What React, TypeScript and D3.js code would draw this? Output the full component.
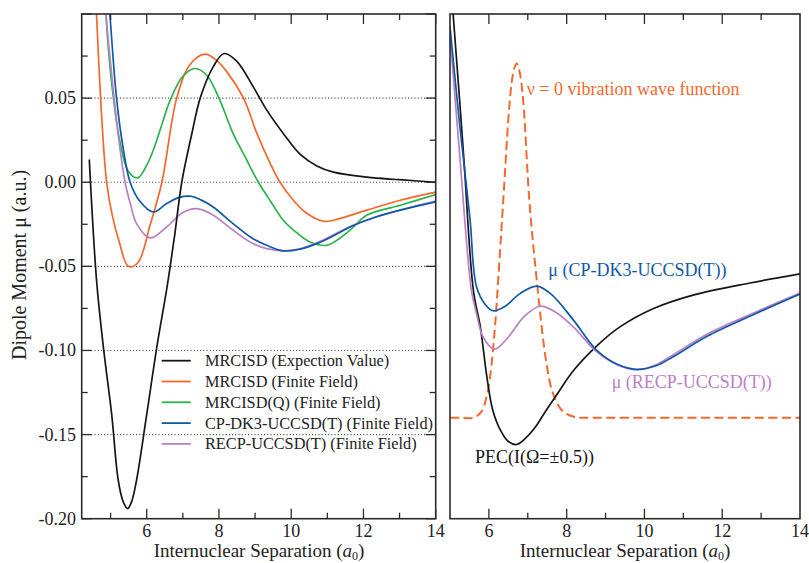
import React from "react";
import * as d3 from "d3";

// ---------- data (left panel: dipole moment, a.u.) ----------
const mrcisdExpX = [4.41, 4.61, 4.8, 5.03, 5.21, 5.35, 5.47, 5.58, 5.72, 6.0, 6.28, 6.55, 6.65, 6.78, 6.97, 7.25, 7.48, 7.84, 8.14, 8.49, 8.95, 9.32, 9.78, 10.25, 10.71, 11.17, 12.1, 13.0, 14.0];
const mrcisdExpY = [0.0135, -0.058, -0.098, -0.138, -0.177, -0.19, -0.194, -0.19, -0.177, -0.138, -0.098, -0.064, -0.05, -0.0305, 0.0, 0.029, 0.05, 0.0686, 0.0765, 0.072, 0.0567, 0.043, 0.029, 0.0165, 0.0097, 0.006, 0.003, 0.0015, 0.0];

const mrcisdFfX = [4.55, 4.61, 4.75, 4.89, 5.05, 5.24, 5.49, 5.75, 6.1, 6.42, 6.83, 7.2, 7.61, 7.9, 8.22, 8.68, 9.05, 9.4, 9.69, 10.02, 10.4, 10.89, 11.17, 12.09, 13.02, 14.0];
const mrcisdFfY = [0.13, 0.1, 0.04, 0.0, -0.02, -0.0355, -0.05, -0.048, -0.025, 0.0, 0.05, 0.07, 0.0761, 0.073, 0.0656, 0.05, 0.029, 0.012, 0.0, -0.0097, -0.018, -0.0232, -0.0226, -0.0166, -0.0107, -0.0059];

const mrcisdQX = [4.8, 4.87, 5.05, 5.26, 5.49, 5.75, 6.0, 6.18, 6.4, 6.65, 7.0, 7.34, 7.66, 8.0, 8.39, 8.75, 9.09, 9.45, 9.78, 10.15, 10.52, 10.98, 11.3, 11.63, 12.09, 13.02, 14.0];
const mrcisdQY = [0.14, 0.1, 0.055, 0.024, 0.0065, 0.0026, 0.0101, 0.019, 0.033, 0.0488, 0.063, 0.0676, 0.0636, 0.05, 0.029, 0.014, 0.0, -0.012, -0.0226, -0.03, -0.0355, -0.0375, -0.034, -0.0285, -0.0196, -0.0137, -0.0073];

const cpdk3X = [4.9, 4.98, 5.17, 5.35, 5.54, 5.8, 6.18, 6.55, 6.9, 7.2, 7.5, 7.84, 8.39, 8.9, 9.32, 9.78, 10.2, 10.71, 11.2, 11.63, 12.3, 13.02, 14.0];
const cpdk3Y = [0.125, 0.1, 0.0488, 0.02, 0.0, -0.011, -0.0177, -0.0127, -0.009, -0.0083, -0.0105, -0.0147, -0.0246, -0.033, -0.0375, -0.0408, -0.04, -0.0365, -0.0315, -0.0266, -0.021, -0.0166, -0.0117];

const recpX = [4.8, 4.87, 5.05, 5.2, 5.4, 5.55, 5.72, 6.09, 6.55, 7.0, 7.38, 7.8, 8.39, 8.9, 9.32, 9.78, 10.2, 10.71, 11.2, 11.63, 12.3, 13.02, 14.0];
const recpY = [0.125, 0.1, 0.06, 0.03, 0.0, -0.013, -0.0246, -0.0331, -0.0266, -0.018, -0.0157, -0.019, -0.0285, -0.036, -0.0395, -0.0408, -0.0398, -0.036, -0.031, -0.0263, -0.021, -0.0165, -0.0112];

// ---------- data (right panel: arbitrary units 0..100) ----------
const pecX = [5.0, 5.08, 5.35, 5.6, 5.78, 5.95, 6.1, 6.3, 6.5, 6.71, 6.95, 7.2, 7.45, 7.74, 8.17, 8.77, 9.37, 10.22, 11.25, 12.71, 14.0];
const pecY = [106, 100, 72, 45.3, 38, 28, 21.5, 17.5, 15.3, 14.7, 16.0, 18.2, 21.2, 24.5, 29.3, 34.2, 38.0, 41.6, 44.3, 46.7, 48.5];

const muCpX = [5.0, 5.25, 5.51, 5.68, 5.9, 6.11, 6.4, 6.8, 7.23, 7.6, 8.17, 8.77, 9.3, 9.8, 10.3, 10.74, 11.6, 12.88, 14.0];
const muCpY = [97.5, 78, 59.8, 46, 42.5, 41.2, 42, 44.6, 46.1, 44.5, 39.4, 33.4, 30.6, 29.6, 30.3, 32.1, 36.1, 40.7, 44.5];

const muRecpX = [5.0, 5.25, 5.55, 5.68, 5.85, 6.15, 6.5, 6.9, 7.31, 7.7, 8.17, 8.77, 9.3, 9.8, 10.3, 10.74, 11.6, 12.88, 14.0];
const muRecpY = [96, 72, 45.3, 40.7, 36, 33.6, 36, 40, 42.1, 41, 38, 33.1, 30.5, 29.5, 30.5, 32.5, 36.5, 41, 44.7];

const waveX = [5.0, 5.3, 5.6, 5.81, 5.94, 6.03, 6.15, 6.24, 6.37, 6.54, 6.63, 6.71, 6.79, 6.88, 7.04, 7.23, 7.48, 7.65, 7.91, 8.25, 8.6, 9.2, 10.0, 11.0, 12.0, 13.0, 14.0];
const waveY = [20, 20, 20, 21.2, 24.2, 28.1, 37.4, 47.3, 63.1, 83, 88.5, 90.2, 88.5, 83, 63.1, 47.3, 30.8, 24.8, 21.2, 20.1, 20, 20, 20, 20, 20, 20, 20];

// ---------- ticks / labels ----------
const xMajorTicks = [6, 8, 10, 12, 14];
const xMinorTicksLeft = [5, 7, 9, 11, 13];
const xMinorTicksRight = [7, 9, 11, 13];
const yMajorTicks = [-0.2, -0.15, -0.1, -0.05, 0.0, 0.05, 0.1];
const yMinorTicks = [-0.175, -0.125, -0.075, -0.025, 0.025, 0.075];
const yLabelTicks = [0.05, 0.0, -0.05, -0.1, -0.15, -0.2];
const yGridTicks = [0.05, 0.0, -0.05, -0.1, -0.15];

const legendLabels = [
  "MRCISD (Expection Value)",
  "MRCISD (Finite Field)",
  "MRCISD(Q) (Finite Field)",
  "CP-DK3-UCCSD(T) (Finite Field)",
  "RECP-UCCSD(T) (Finite Field)",
];

const C_BLACK = "#161616";
const C_ORANGE = "#f4682c";
const C_GREEN = "#2bb34b";
const C_BLUE = "#0f5aa8";
const C_PURPLE = "#bb7fc6";
const legendColors = [C_BLACK, C_ORANGE, C_GREEN, C_BLUE, C_PURPLE];

const FONT = "'Liberation Serif', 'Times New Roman', serif";
const TXT = "#222";
const FRAME = "#2a2a2a";

const zip = (xs: number[], ys: number[]) => xs.map((x, i) => [x, ys[i]] as [number, number]);

export default function App() {
  const W = 809, H = 563;
  const top = 14, bottom = 518.7;
  const L = { x0: 81.7, x1: 435.7 };
  const R = { x0: 450, x1: 800 };

  const xl = d3.scaleLinear().domain([4.2, 14]).range([L.x0, L.x1]);
  const yl = d3.scaleLinear().domain([-0.2, 0.1]).range([bottom, top]);
  const xr = d3.scaleLinear().domain([5, 14]).range([R.x0, R.x1]);
  const yr = d3.scaleLinear().domain([0, 100]).range([bottom, top]);

  const curve = d3.curveCatmullRom.alpha(0.5);
  const lineL = d3.line<[number, number]>().x(d => xl(d[0])).y(d => yl(d[1])).curve(curve);
  const lineR = d3.line<[number, number]>().x(d => xr(d[0])).y(d => yr(d[1])).curve(curve);

  const leftSeries = [
    { d: zip(mrcisdFfX, mrcisdFfY), c: C_ORANGE },
    { d: zip(mrcisdQX, mrcisdQY), c: C_GREEN },
    { d: zip(recpX, recpY), c: C_PURPLE },
    { d: zip(cpdk3X, cpdk3Y), c: C_BLUE },
    { d: zip(mrcisdExpX, mrcisdExpY), c: C_BLACK },
  ];

  const majorLen = 10, minorLen = 6;

  const xTitle = (cx: number) => (
    <text x={cx} y={557} textAnchor="middle" fontSize={19} fill={TXT}>
      Internuclear Separation (<tspan fontStyle="italic">a</tspan><tspan fontSize={12} dy={2.5}>0</tspan><tspan dy={-2.5}>)</tspan>
    </text>
  );

  return (
    <svg width={W} height={H} style={{ position: "absolute", left: 0, top: 0, background: "#fff" }} fontFamily={FONT}>
      <defs>
        <clipPath id="clipL"><rect x={L.x0} y={top} width={L.x1 - L.x0} height={bottom - top} /></clipPath>
        <clipPath id="clipR"><rect x={R.x0} y={top} width={R.x1 - R.x0} height={bottom - top} /></clipPath>
      </defs>

      {/* ----- left panel ----- */}
      {yGridTicks.map(v => (
        <line key={"g" + v} x1={L.x0} x2={L.x1} y1={yl(v)} y2={yl(v)} stroke="#444" strokeWidth={1.1} strokeDasharray="1,2.2" />
      ))}
      <g clipPath="url(#clipL)" fill="none" strokeWidth={1.7} strokeLinejoin="round">
        {leftSeries.map((s, i) => <path key={i} d={lineL(s.d) || ""} stroke={s.c} />)}
      </g>
      <g stroke={FRAME} strokeWidth={1.3}>
        {xMajorTicks.map(v => (
          <g key={"lxM" + v}>
            <line x1={xl(v)} x2={xl(v)} y1={bottom} y2={bottom - majorLen} />
            <line x1={xl(v)} x2={xl(v)} y1={top} y2={top + majorLen} />
          </g>
        ))}
        {xMinorTicksLeft.map(v => (
          <g key={"lxm" + v}>
            <line x1={xl(v)} x2={xl(v)} y1={bottom} y2={bottom - minorLen} />
            <line x1={xl(v)} x2={xl(v)} y1={top} y2={top + minorLen} />
          </g>
        ))}
        {yMajorTicks.map(v => (
          <g key={"lyM" + v}>
            <line x1={L.x0} x2={L.x0 + majorLen} y1={yl(v)} y2={yl(v)} />
            <line x1={L.x1} x2={L.x1 - majorLen} y1={yl(v)} y2={yl(v)} />
          </g>
        ))}
        {yMinorTicks.map(v => (
          <g key={"lym" + v}>
            <line x1={L.x0} x2={L.x0 + minorLen} y1={yl(v)} y2={yl(v)} />
            <line x1={L.x1} x2={L.x1 - minorLen} y1={yl(v)} y2={yl(v)} />
          </g>
        ))}
      </g>
      <rect x={L.x0} y={top} width={L.x1 - L.x0} height={bottom - top} fill="none" stroke={FRAME} strokeWidth={1.6} />
      <g fill={TXT} fontSize={18}>
        {yLabelTicks.map(v => (
          <text key={"yl" + v} x={76} y={yl(v) + 6} textAnchor="end">{d3.format(".2f")(v).replace("−", "-")}</text>
        ))}
        {xMajorTicks.map(v => (
          <text key={"xl" + v} x={xl(v)} y={536.5} textAnchor="middle">{v}</text>
        ))}
        {xMajorTicks.map(v => (
          <text key={"xr" + v} x={xr(v)} y={536.5} textAnchor="middle">{v}</text>
        ))}
      </g>
      <g fontSize={16.3} fill={TXT}>
        {legendLabels.map((lab, i) => {
          const y = 360.7 + i * 20.8;
          return (
            <g key={lab}>
              <line x1={161.7} x2={190.7} y1={y} y2={y} stroke={legendColors[i]} strokeWidth={1.8} />
              <text x={205} y={y + 5.5}>{lab}</text>
            </g>
          );
        })}
      </g>
      <text transform={`translate(26,265) rotate(-90)`} textAnchor="middle" fontSize={20} fill={TXT}>Dipole Moment μ (a.u.)</text>
      {xTitle(259)}
      {xTitle(625)}

      {/* ----- right panel ----- */}
      <g clipPath="url(#clipR)" fill="none" strokeLinejoin="round">
        <path d={lineR(zip(waveX, waveY)) || ""} stroke={C_ORANGE} strokeWidth={2} strokeDasharray="9,4.5" />
        <path d={lineR(zip(pecX, pecY)) || ""} stroke={C_BLACK} strokeWidth={1.7} />
        <path d={lineR(zip(muRecpX, muRecpY)) || ""} stroke={C_PURPLE} strokeWidth={1.7} />
        <path d={lineR(zip(muCpX, muCpY)) || ""} stroke={C_BLUE} strokeWidth={1.7} />
      </g>
      <g stroke={FRAME} strokeWidth={1.3}>
        {[6, 8, 10, 12].map(v => (
          <g key={"rxM" + v}>
            <line x1={xr(v)} x2={xr(v)} y1={bottom} y2={bottom - majorLen} />
            <line x1={xr(v)} x2={xr(v)} y1={top} y2={top + majorLen} />
          </g>
        ))}
        {xMinorTicksRight.map(v => (
          <g key={"rxm" + v}>
            <line x1={xr(v)} x2={xr(v)} y1={bottom} y2={bottom - minorLen} />
            <line x1={xr(v)} x2={xr(v)} y1={top} y2={top + minorLen} />
          </g>
        ))}
      </g>
      <rect x={R.x0} y={top} width={R.x1 - R.x0} height={bottom - top} fill="none" stroke={FRAME} strokeWidth={1.6} />
      <g fontSize={18}>
        <text x={526.7} y={95} fill={C_ORANGE}>ν = 0 vibration wave function</text>
        <text x={548.3} y={276} fill={C_BLUE}>μ (CP-DK3-UCCSD(T))</text>
        <text x={611.7} y={388} fill={C_PURPLE}>μ (RECP-UCCSD(T))</text>
        <text x={475} y={463} fill={C_BLACK}>PEC(I(Ω=±0.5))</text>
      </g>
    </svg>
  );
}
